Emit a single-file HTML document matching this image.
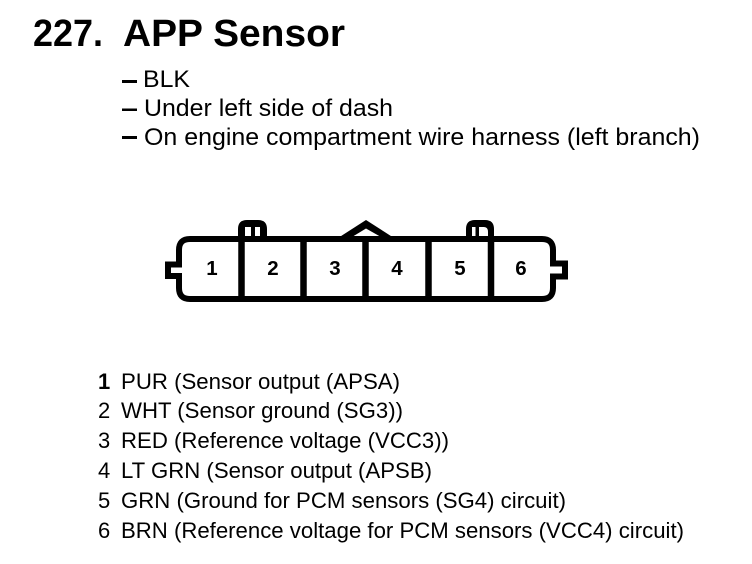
<!DOCTYPE html>
<html><head><meta charset="utf-8"><style>
html,body{margin:0;padding:0;background:#fff;width:752px;height:564px;overflow:hidden}
svg{display:block}
text{font-family:"Liberation Sans",sans-serif;fill:#000;stroke:none}
.n{font-size:20.5px;font-weight:bold;text-anchor:middle}
.l{font-size:22px}
.s{font-size:24px}
</style></head><body>
<svg width="752" height="564" viewBox="0 0 752 564" xmlns="http://www.w3.org/2000/svg">
<text x="33" y="46" font-size="38" font-weight="bold" textLength="70" lengthAdjust="spacingAndGlyphs">227.</text>
<text x="123" y="46" font-size="38" font-weight="bold" textLength="222" lengthAdjust="spacingAndGlyphs">APP Sensor</text>
<rect x="122" y="80" width="15" height="3"/>
<rect x="122" y="108.500" width="15" height="2.500"/>
<rect x="122" y="136" width="15" height="3"/>
<text class="s" x="143" y="87" textLength="47" lengthAdjust="spacingAndGlyphs">BLK</text>
<text class="s" x="144" y="116" textLength="249" lengthAdjust="spacingAndGlyphs">Under left side of dash</text>
<text class="s" x="144" y="145" textLength="556" lengthAdjust="spacingAndGlyphs">On engine compartment wire harness (left branch)</text>

<path d="M238 238V229Q238 220 247 220H258Q267 220 267 229V238Z"/>
<rect x="245" y="227" width="6" height="10" fill="#fff"/>
<rect x="255" y="227" width="5" height="10" fill="#fff"/>
<path d="M466 238V229Q466 220 475 220H485Q494 220 494 229V238Z"/>
<rect x="472" y="227" width="3.500" height="10" fill="#fff"/>
<path d="M479 227H484Q488 227 488 232V237H479Z" fill="#fff"/>
<path d="M338 238L366 220L394 238Z"/>
<path d="M352 237L366 228.500L381 237Z" fill="#fff"/>

<g fill="none" stroke="#000" stroke-width="6">
<path d="M190 239H542Q553 239 553 250V263.500H565V276.500H553V288Q553 299 542 299H190Q179 299 179 288V276H168V264.500H179V250Q179 239 190 239Z"/>
</g>
<g fill="none" stroke="#000" stroke-width="6.500">
<path d="M241.500 239V299M303.500 239V299M365.500 239V299M428.500 239V299M491 239V299"/>
</g>
<text class="n" x="212" y="275">1</text>
<text class="n" x="273" y="275">2</text>
<text class="n" x="335" y="275">3</text>
<text class="n" x="397" y="275">4</text>
<text class="n" x="460" y="275">5</text>
<text class="n" x="521" y="275">6</text>
<g class="l">
<text x="98" y="389" font-weight="bold">1</text><text x="121" y="389" textLength="279" lengthAdjust="spacingAndGlyphs">PUR (Sensor output (APSA)</text>
<text x="98" y="418">2</text><text x="121" y="418" textLength="282" lengthAdjust="spacingAndGlyphs">WHT (Sensor ground (SG3))</text>
<text x="98" y="448">3</text><text x="121" y="448" textLength="328" lengthAdjust="spacingAndGlyphs">RED (Reference voltage (VCC3))</text>
<text x="98" y="478">4</text><text x="121" y="478" textLength="311" lengthAdjust="spacingAndGlyphs">LT GRN (Sensor output (APSB)</text>
<text x="98" y="508">5</text><text x="121" y="508" textLength="445" lengthAdjust="spacingAndGlyphs">GRN (Ground for PCM sensors (SG4) circuit)</text>
<text x="98" y="538">6</text><text x="121" y="538" textLength="563" lengthAdjust="spacingAndGlyphs">BRN (Reference voltage for PCM sensors (VCC4) circuit)</text>
</g>
</svg>
</body></html>
